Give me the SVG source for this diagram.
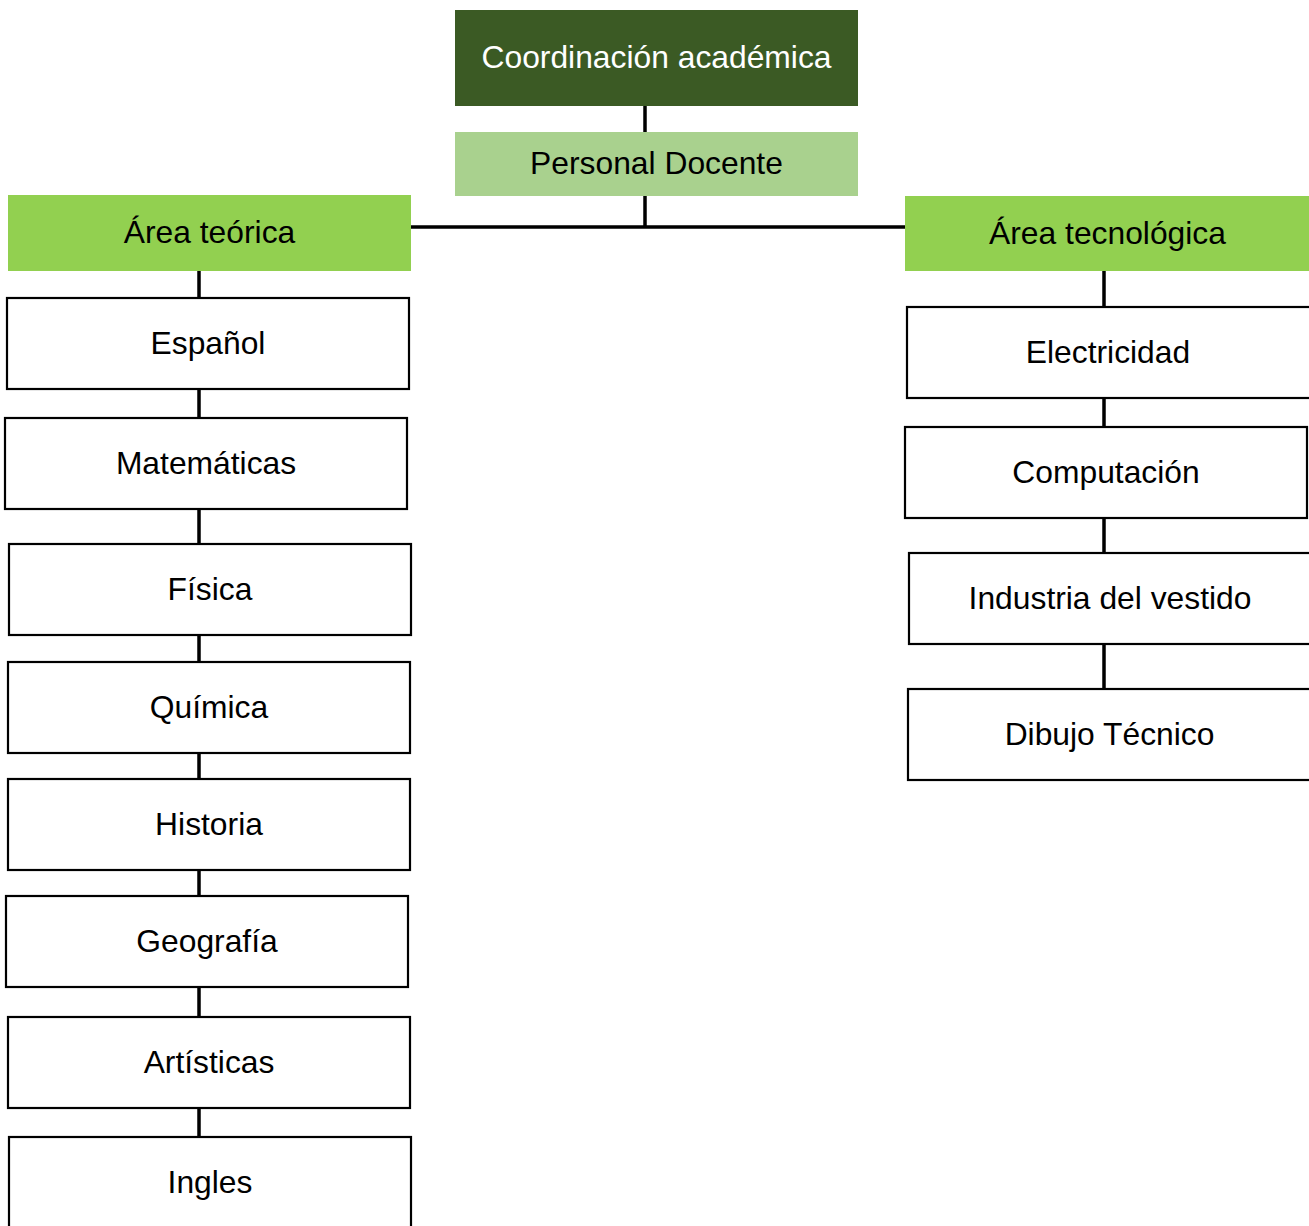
<svg xmlns="http://www.w3.org/2000/svg" width="1309" height="1226" viewBox="0 0 1309 1226">
<style>
.t{font-family:"Liberation Sans",Arial,sans-serif;font-size:31.8px;text-anchor:middle;fill:#000}
.w{fill:#fff}
.box{fill:#fff;stroke:#000;stroke-width:2.2}
.c{stroke:#000;stroke-width:3.5;fill:none}
</style>
<rect width="1309" height="1226" fill="#fff"/>
<g id="connectors">
<path class="c" d="M645 106V132M645 196V227M411 227H905"/>
<path class="c" d="M199 271V298M199 389V418M199 509V544M199 635V662M199 753V779M199 870V896M199 987V1017M199 1108V1137"/>
<path class="c" d="M1104 271V307M1104 398V427M1104 518V553M1104 644V689"/>
</g>
<g id="coord"><rect x="455" y="10" width="403" height="96" fill="#3b5a24"/><text class="t w" x="656.5" y="67.5">Coordinación académica</text></g>
<g id="personal"><rect x="455" y="132" width="403" height="64" fill="#a9d18e"/><text class="t" x="656.5" y="173.5">Personal Docente</text></g>
<g id="area-teorica"><rect x="8" y="195" width="403" height="76" fill="#92d050"/><text class="t" x="209.5" y="242.5">Área teórica</text></g>
<g id="area-tecnologica"><rect x="905" y="196" width="406" height="75" fill="#92d050"/><text class="t" x="1107.5" y="244">Área tecnológica</text></g>
<g id="espanol"><rect class="box" x="7" y="298" width="402" height="91"/><text class="t" x="208" y="353.5">Español</text></g>
<g id="matematicas"><rect class="box" x="5" y="418" width="402" height="91"/><text class="t" x="206" y="473.5">Matemáticas</text></g>
<g id="fisica"><rect class="box" x="9" y="544" width="402" height="91"/><text class="t" x="210" y="599.5">Física</text></g>
<g id="quimica"><rect class="box" x="8" y="662" width="402" height="91"/><text class="t" x="209" y="717.5">Química</text></g>
<g id="historia"><rect class="box" x="8" y="779" width="402" height="91"/><text class="t" x="209" y="834.5">Historia</text></g>
<g id="geografia"><rect class="box" x="6" y="896" width="402" height="91"/><text class="t" x="207" y="951.5">Geografía</text></g>
<g id="artisticas"><rect class="box" x="8" y="1017" width="402" height="91"/><text class="t" x="209" y="1072.5">Artísticas</text></g>
<g id="ingles"><rect class="box" x="9" y="1137" width="402" height="100"/><text class="t" x="210" y="1192.5">Ingles</text></g>
<g id="electricidad"><rect class="box" x="907" y="307" width="404" height="91"/><text class="t" x="1108" y="362.5">Electricidad</text></g>
<g id="computacion"><rect class="box" x="905" y="427" width="402" height="91"/><text class="t" x="1106" y="482.5">Computación</text></g>
<g id="industria"><rect class="box" x="909" y="553" width="404" height="91"/><text class="t" x="1110" y="608.5">Industria del vestido</text></g>
<g id="dibujo"><rect class="box" x="908" y="689" width="404" height="91"/><text class="t" x="1109.5" y="744.5">Dibujo Técnico</text></g>
</svg>
